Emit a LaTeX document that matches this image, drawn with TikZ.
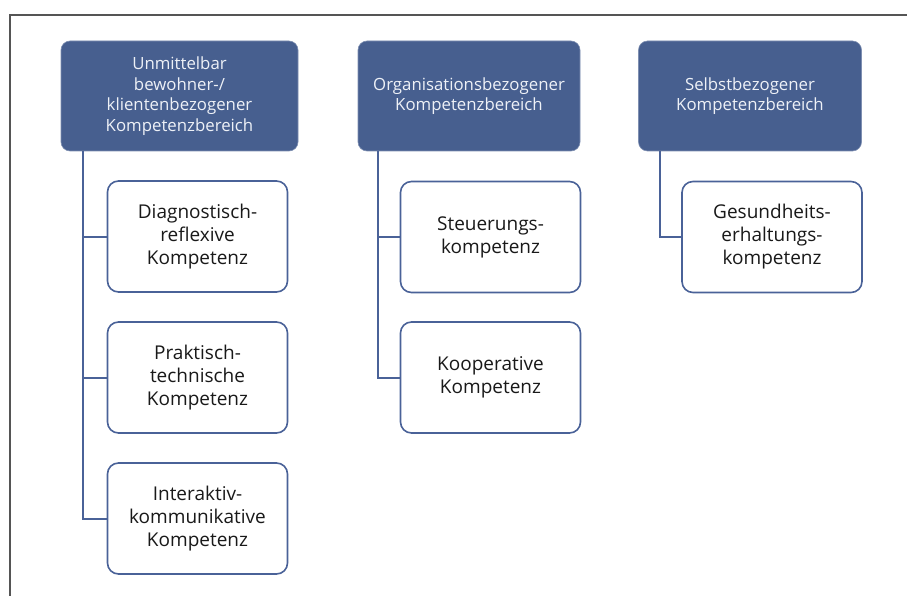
\documentclass[tikz,border=0pt]{standalone}
\usepackage{fontspec}
\setmainfont{Open Sans}
\definecolor{headblue}{HTML}{475F8F}
\definecolor{lineblue}{HTML}{4A6298}
\definecolor{headtext}{HTML}{EEF1F7}
\definecolor{frame}{HTML}{555555}
\begin{document}
\begin{tikzpicture}[x=1pt,y=-1pt,
  header/.style={draw=headblue!70!white, line width=0.6pt, fill=headblue, rounded corners=9pt,
    text=headtext, align=center, inner sep=0pt, minimum height=110pt,
    font=\fontsize{16.8}{20.5}\selectfont},
  item/.style={draw=lineblue, line width=1.6pt, fill=white, rounded corners=11pt,
    text=black!90, align=center, inner sep=0pt, minimum width=180pt, minimum height=111pt,
    font=\fontsize{19}{23}\selectfont},
  link/.style={draw=lineblue, line width=2pt}]
\useasboundingbox (0,0) rectangle (907,596);
% outer frame: top and left edges only
\draw[frame, line width=1.2pt] (10,596) -- (10,15) -- (907,15);

% group headers
\node[header, minimum width=237pt] (h1) at (179.5,96) {Unmittelbar\\bewohner-/\\klientenbezogener\\Kompetenzbereich};
\node[header, minimum width=222pt] (h2) at (469,96) {Organisationsbezogener\\Kompetenzbereich};
\node[header, minimum width=223pt] (h3) at (750,96) {Selbstbezogener\\Kompetenzbereich};

% competence boxes
\node[item] (a1) at (197.5,236.5) {Diagnostisch-\\reflexive\\Kompetenz};
\node[item] (a2) at (197.5,377.5) {Praktisch-\\technische\\Kompetenz};
\node[item] (a3) at (197.5,518.5) {Interaktiv-\\kommunikative\\Kompetenz};
\node[item] (b1) at (490.5,237) {Steuerungs-\\kompetenz};
\node[item] (b2) at (490.5,377.5) {Kooperative\\Kompetenz};
\node[item] (c1) at (772,237) {Gesundheits-\\erhaltungs-\\kompetenz};

% trunk start points below the headers
\coordinate (t1) at (83,151);
\coordinate (t2) at (378,151);
\coordinate (t3) at (660,151);

% connectors
\draw[link] (t1) |- (a3.west);
\draw[link] (t1 |- a1.west) -- (a1.west);
\draw[link] (t1 |- a2.west) -- (a2.west);
\draw[link] (t2) |- (b2.west);
\draw[link] (t2 |- b1.west) -- (b1.west);
\draw[link] (t3) |- (c1.west);
\end{tikzpicture}
\end{document}
